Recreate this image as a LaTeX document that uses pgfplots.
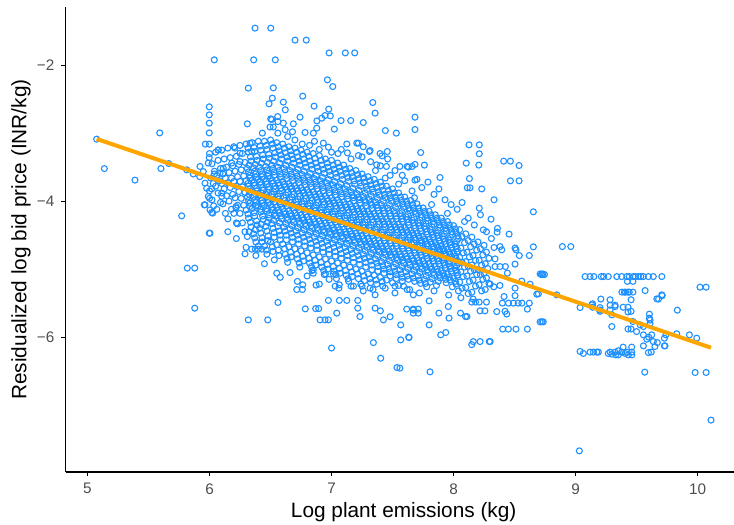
\documentclass[border=0pt]{standalone}
\usepackage{fontspec}
\setmainfont{Liberation Sans}
\usepackage{pgfplots}
\pgfplotsset{compat=1.18}
\definecolor{dodger}{HTML}{1E90FF}
\definecolor{ggorange}{HTML}{FFA500}
\definecolor{gthirty}{HTML}{4D4D4D}
\begin{document}
\begin{tikzpicture}
\begin{axis}[
 scale only axis, width=337.8pt, height=232.5pt,
 xmin=4.823, xmax=10.36, ymin=-7.983, ymax=-1.145,
 clip marker paths=true,
 axis x line*=bottom, axis y line*=left,
 axis line style={-, black, line width=0.55pt},
 tick align=outside, major tick length=2.2pt,
 tick style={black, line width=0.55pt},
 xtick={5,6,7,8,9,10}, xticklabels={5,6,7,8,9,10},
 ytick={-6,-4,-2}, yticklabels={−6,−4,−2},
 minor tick num=0,
 ticklabel style={font=\fontsize{7.65}{9}\selectfont, text=gthirty},
 xlabel={Log plant emissions (kg)},
 ylabel={Residualized log bid price (INR/kg)},
 label style={font=\fontsize{10.4}{12}\selectfont},
 xlabel style={at={(axis description cs:0.5,-0.0854)}, anchor=center},
 ylabel style={at={(axis description cs:-0.0666,0.5)}, anchor=center},
]
\addplot[only marks, mark=o, mark size=1.5pt, mark options={draw=dodger, line width=0.55pt}] coordinates {
(6.00,-3.30) (6.02,-3.45) (6.04,-3.56) (6.01,-3.66) (6.03,-3.74) (6.00,-3.85) (6.02,-3.98) (6.04,-3.60)
(6.05,-3.28) (6.07,-3.40) (6.09,-3.52) (6.06,-3.62) (6.08,-3.70) (6.05,-3.78) (6.07,-3.88) (6.09,-4.02) (6.06,-4.12)
(6.10,-3.25) (6.12,-3.38) (6.14,-3.50) (6.11,-3.60) (6.13,-3.66) (6.10,-3.74) (6.12,-3.82) (6.14,-3.92) (6.11,-4.04) (6.13,-4.18)
(6.15,-3.22) (6.17,-3.36) (6.19,-3.48) (6.16,-3.58) (6.18,-3.66) (6.15,-3.73) (6.17,-3.80) (6.19,-3.90) (6.16,-4.00) (6.18,-4.12) (6.15,-4.26)
(6.20,-3.20) (6.22,-3.34) (6.24,-3.46) (6.21,-3.56) (6.23,-3.64) (6.20,-3.71) (6.22,-3.78) (6.24,-3.86) (6.21,-3.95) (6.23,-4.06) (6.20,-4.18) (6.22,-4.32)
(6.25,-3.18) (6.27,-3.30) (6.29,-3.43) (6.26,-3.54) (6.28,-3.63) (6.25,-3.71) (6.27,-3.79) (6.29,-3.87) (6.26,-3.96) (6.28,-4.06) (6.25,-4.18) (6.27,-4.32) (6.29,-4.45)
(6.30,-3.16) (6.32,-3.28) (6.34,-3.41) (6.31,-3.52) (6.33,-3.62) (6.30,-3.70) (6.32,-3.78) (6.34,-3.86) (6.31,-3.94) (6.33,-4.03) (6.30,-4.13) (6.32,-4.25) (6.34,-4.38) (6.31,-4.52)
(6.35,-3.14) (6.37,-3.27) (6.39,-3.40) (6.36,-3.51) (6.38,-3.60) (6.35,-3.69) (6.37,-3.77) (6.39,-3.85) (6.36,-3.93) (6.38,-4.02) (6.35,-4.11) (6.37,-4.22) (6.39,-4.35) (6.36,-4.48) (6.38,-4.60)
(6.40,-3.12) (6.42,-3.25) (6.44,-3.38) (6.41,-3.50) (6.43,-3.60) (6.40,-3.68) (6.42,-3.76) (6.44,-3.84) (6.41,-3.91) (6.43,-3.99) (6.40,-4.07) (6.42,-4.16) (6.44,-4.27) (6.41,-4.40) (6.43,-4.54) (6.40,-4.66)
(6.45,-3.12) (6.47,-3.24) (6.49,-3.37) (6.46,-3.49) (6.48,-3.59) (6.45,-3.67) (6.47,-3.75) (6.49,-3.83) (6.46,-3.90) (6.48,-3.98) (6.45,-4.06) (6.47,-4.15) (6.49,-4.25) (6.46,-4.37) (6.48,-4.51) (6.45,-4.66) (6.47,-4.78)
(6.50,-3.10) (6.52,-3.22) (6.54,-3.35) (6.51,-3.47) (6.53,-3.57) (6.50,-3.66) (6.52,-3.74) (6.54,-3.82) (6.51,-3.90) (6.53,-3.97) (6.50,-4.05) (6.52,-4.13) (6.54,-4.22) (6.51,-4.33) (6.53,-4.46) (6.50,-4.60) (6.52,-4.74)
(6.55,-3.14) (6.57,-3.26) (6.59,-3.38) (6.56,-3.50) (6.58,-3.60) (6.55,-3.69) (6.57,-3.77) (6.59,-3.85) (6.56,-3.93) (6.58,-4.01) (6.55,-4.09) (6.57,-4.17) (6.59,-4.26) (6.56,-4.37) (6.58,-4.50) (6.55,-4.64) (6.57,-4.80)
(6.60,-3.16) (6.62,-3.29) (6.64,-3.41) (6.61,-3.52) (6.63,-3.62) (6.60,-3.71) (6.62,-3.79) (6.64,-3.87) (6.61,-3.95) (6.63,-4.03) (6.60,-4.11) (6.62,-4.19) (6.64,-4.28) (6.61,-4.38) (6.63,-4.50) (6.60,-4.63) (6.62,-4.78) (6.64,-4.90)
(6.65,-3.20) (6.67,-3.32) (6.69,-3.44) (6.66,-3.55) (6.68,-3.65) (6.65,-3.74) (6.67,-3.82) (6.69,-3.90) (6.66,-3.98) (6.68,-4.06) (6.65,-4.14) (6.67,-4.22) (6.69,-4.31) (6.66,-4.41) (6.68,-4.53) (6.65,-4.67) (6.67,-4.82)
(6.70,-3.22) (6.72,-3.35) (6.74,-3.47) (6.71,-3.58) (6.73,-3.68) (6.70,-3.77) (6.72,-3.85) (6.74,-3.93) (6.71,-4.01) (6.73,-4.09) (6.70,-4.17) (6.72,-4.25) (6.74,-4.34) (6.71,-4.44) (6.73,-4.56) (6.70,-4.70) (6.72,-4.85) (6.74,-4.97)
(6.75,-3.25) (6.77,-3.38) (6.79,-3.50) (6.76,-3.61) (6.78,-3.71) (6.75,-3.80) (6.77,-3.88) (6.79,-3.96) (6.76,-4.04) (6.78,-4.12) (6.75,-4.20) (6.77,-4.28) (6.79,-4.37) (6.76,-4.47) (6.78,-4.59) (6.75,-4.73) (6.77,-4.88)
(6.80,-3.28) (6.82,-3.41) (6.84,-3.53) (6.81,-3.64) (6.83,-3.74) (6.80,-3.83) (6.82,-3.91) (6.84,-3.99) (6.81,-4.07) (6.83,-4.15) (6.80,-4.23) (6.82,-4.31) (6.84,-4.40) (6.81,-4.50) (6.83,-4.62) (6.80,-4.76) (6.82,-4.91) (6.84,-5.02)
(6.85,-3.30) (6.87,-3.44) (6.89,-3.56) (6.86,-3.67) (6.88,-3.77) (6.85,-3.86) (6.87,-3.94) (6.89,-4.02) (6.86,-4.10) (6.88,-4.18) (6.85,-4.26) (6.87,-4.34) (6.89,-4.43) (6.86,-4.53) (6.88,-4.65) (6.85,-4.79) (6.87,-4.94)
(6.90,-3.33) (6.92,-3.47) (6.94,-3.59) (6.91,-3.70) (6.93,-3.80) (6.90,-3.89) (6.92,-3.97) (6.94,-4.05) (6.91,-4.13) (6.93,-4.21) (6.90,-4.29) (6.92,-4.37) (6.94,-4.46) (6.91,-4.56) (6.93,-4.68) (6.90,-4.82) (6.92,-4.97) (6.94,-5.08)
(6.95,-3.38) (6.97,-3.50) (6.99,-3.62) (6.96,-3.73) (6.98,-3.83) (6.95,-3.92) (6.97,-4.00) (6.99,-4.08) (6.96,-4.16) (6.98,-4.24) (6.95,-4.32) (6.97,-4.40) (6.99,-4.49) (6.96,-4.59) (6.98,-4.71) (6.95,-4.85) (6.97,-5.00)
(7.00,-3.40) (7.02,-3.53) (7.04,-3.65) (7.01,-3.76) (7.03,-3.86) (7.00,-3.95) (7.02,-4.03) (7.04,-4.11) (7.01,-4.19) (7.03,-4.27) (7.00,-4.35) (7.02,-4.43) (7.04,-4.52) (7.01,-4.62) (7.03,-4.74) (7.00,-4.88) (7.02,-5.03) (7.04,-5.14)
(7.05,-3.44) (7.07,-3.56) (7.09,-3.68) (7.06,-3.79) (7.08,-3.89) (7.05,-3.98) (7.07,-4.06) (7.09,-4.14) (7.06,-4.22) (7.08,-4.30) (7.05,-4.38) (7.07,-4.46) (7.09,-4.55) (7.06,-4.65) (7.08,-4.77) (7.05,-4.91) (7.07,-5.06)
(7.10,-3.47) (7.12,-3.59) (7.14,-3.71) (7.11,-3.82) (7.13,-3.92) (7.10,-4.01) (7.12,-4.09) (7.14,-4.17) (7.11,-4.25) (7.13,-4.33) (7.10,-4.41) (7.12,-4.49) (7.14,-4.58) (7.11,-4.68) (7.13,-4.80) (7.10,-4.94) (7.12,-5.09) (7.14,-5.18)
(7.15,-3.52) (7.17,-3.64) (7.19,-3.75) (7.16,-3.86) (7.18,-3.95) (7.15,-4.04) (7.17,-4.12) (7.19,-4.20) (7.16,-4.28) (7.18,-4.36) (7.15,-4.44) (7.17,-4.52) (7.19,-4.61) (7.16,-4.71) (7.18,-4.83) (7.15,-4.97) (7.17,-5.11)
(7.20,-3.55) (7.22,-3.67) (7.24,-3.78) (7.21,-3.89) (7.23,-3.98) (7.20,-4.07) (7.22,-4.15) (7.24,-4.23) (7.21,-4.31) (7.23,-4.39) (7.20,-4.47) (7.22,-4.55) (7.24,-4.64) (7.21,-4.74) (7.23,-4.86) (7.20,-5.00) (7.22,-5.14) (7.24,-5.22)
(7.25,-3.60) (7.27,-3.72) (7.29,-3.83) (7.26,-3.93) (7.28,-4.02) (7.25,-4.11) (7.27,-4.19) (7.29,-4.27) (7.26,-4.35) (7.28,-4.43) (7.25,-4.51) (7.27,-4.59) (7.29,-4.68) (7.26,-4.78) (7.28,-4.90) (7.25,-5.03) (7.27,-5.17)
(7.30,-3.64) (7.32,-3.76) (7.34,-3.87) (7.31,-3.97) (7.33,-4.06) (7.30,-4.15) (7.32,-4.23) (7.34,-4.31) (7.31,-4.39) (7.33,-4.47) (7.30,-4.55) (7.32,-4.63) (7.34,-4.72) (7.31,-4.82) (7.33,-4.94) (7.30,-5.07) (7.32,-5.20)
(7.35,-3.68) (7.37,-3.80) (7.39,-3.91) (7.36,-4.01) (7.38,-4.10) (7.35,-4.18) (7.37,-4.26) (7.39,-4.34) (7.36,-4.42) (7.38,-4.50) (7.35,-4.58) (7.37,-4.66) (7.39,-4.75) (7.36,-4.85) (7.38,-4.96) (7.35,-5.09) (7.37,-5.22)
(7.40,-3.72) (7.42,-3.84) (7.44,-3.95) (7.41,-4.05) (7.43,-4.14) (7.40,-4.22) (7.42,-4.30) (7.44,-4.38) (7.41,-4.46) (7.43,-4.54) (7.40,-4.62) (7.42,-4.70) (7.44,-4.79) (7.41,-4.89) (7.43,-5.00) (7.40,-5.12) (7.42,-5.25)
(7.45,-3.78) (7.47,-3.90) (7.49,-4.00) (7.46,-4.10) (7.48,-4.18) (7.45,-4.26) (7.47,-4.34) (7.49,-4.42) (7.46,-4.50) (7.48,-4.58) (7.45,-4.66) (7.47,-4.74) (7.49,-4.83) (7.46,-4.93) (7.48,-5.04) (7.45,-5.16)
(7.50,-3.82) (7.52,-3.94) (7.54,-4.04) (7.51,-4.14) (7.53,-4.22) (7.50,-4.30) (7.52,-4.38) (7.54,-4.46) (7.51,-4.54) (7.53,-4.62) (7.50,-4.70) (7.52,-4.78) (7.54,-4.87) (7.51,-4.97) (7.53,-5.08) (7.50,-5.20)
(7.55,-3.88) (7.57,-3.99) (7.59,-4.09) (7.56,-4.18) (7.58,-4.26) (7.55,-4.34) (7.57,-4.42) (7.59,-4.50) (7.56,-4.58) (7.58,-4.66) (7.55,-4.74) (7.57,-4.82) (7.59,-4.91) (7.56,-5.01) (7.58,-5.12) (7.55,-5.24)
(7.60,-3.94) (7.62,-4.05) (7.64,-4.14) (7.61,-4.23) (7.63,-4.31) (7.60,-4.39) (7.62,-4.46) (7.64,-4.53) (7.61,-4.61) (7.63,-4.69) (7.60,-4.77) (7.62,-4.85) (7.64,-4.94) (7.61,-5.04) (7.63,-5.15)
(7.65,-3.99) (7.67,-4.10) (7.69,-4.19) (7.66,-4.28) (7.68,-4.36) (7.65,-4.43) (7.67,-4.50) (7.69,-4.57) (7.66,-4.64) (7.68,-4.72) (7.65,-4.80) (7.67,-4.88) (7.69,-4.97) (7.66,-5.07) (7.68,-5.18)
(7.70,-4.04) (7.72,-4.15) (7.74,-4.24) (7.71,-4.32) (7.73,-4.40) (7.70,-4.47) (7.72,-4.54) (7.74,-4.61) (7.71,-4.68) (7.73,-4.75) (7.70,-4.83) (7.72,-4.91) (7.74,-5.00) (7.71,-5.10) (7.73,-5.21)
(7.75,-4.10) (7.77,-4.20) (7.79,-4.29) (7.76,-4.37) (7.78,-4.45) (7.75,-4.52) (7.77,-4.59) (7.79,-4.66) (7.76,-4.73) (7.78,-4.80) (7.75,-4.88) (7.77,-4.96) (7.79,-5.05) (7.76,-5.15) (7.78,-5.26)
(7.80,-4.15) (7.82,-4.25) (7.84,-4.34) (7.81,-4.42) (7.83,-4.49) (7.80,-4.56) (7.82,-4.63) (7.84,-4.70) (7.81,-4.77) (7.83,-4.84) (7.80,-4.92) (7.82,-5.00) (7.84,-5.09) (7.81,-5.19)
(7.85,-4.20) (7.87,-4.30) (7.89,-4.39) (7.86,-4.47) (7.88,-4.54) (7.85,-4.61) (7.87,-4.68) (7.89,-4.74) (7.86,-4.81) (7.88,-4.88) (7.85,-4.96) (7.87,-5.04) (7.89,-5.13) (7.86,-5.24)
(7.90,-4.25) (7.92,-4.35) (7.94,-4.44) (7.91,-4.52) (7.93,-4.59) (7.90,-4.66) (7.92,-4.73) (7.94,-4.80) (7.91,-4.87) (7.93,-4.94) (7.90,-5.02) (7.92,-5.10) (7.94,-5.20)
(7.95,-4.30) (7.97,-4.40) (7.99,-4.49) (7.96,-4.57) (7.98,-4.64) (7.95,-4.71) (7.97,-4.78) (7.99,-4.85) (7.96,-4.92) (7.98,-4.99) (7.95,-5.07) (7.97,-5.16) (7.99,-5.26)
(8.00,-4.36) (8.02,-4.46) (8.04,-4.55) (8.01,-4.63) (8.03,-4.70) (8.00,-4.77) (8.02,-4.84) (8.04,-4.91) (8.01,-4.98) (8.03,-5.05) (8.00,-5.13) (8.02,-5.22) (8.04,-5.32)
(8.05,-4.42) (8.07,-4.52) (8.09,-4.61) (8.06,-4.69) (8.08,-4.76) (8.05,-4.83) (8.07,-4.90) (8.09,-4.97) (8.06,-5.04) (8.08,-5.11) (8.05,-5.19) (8.07,-5.28)
(8.10,-4.48) (8.12,-4.58) (8.14,-4.67) (8.11,-4.75) (8.13,-4.82) (8.10,-4.89) (8.12,-4.96) (8.14,-5.03) (8.11,-5.10) (8.13,-5.18) (8.10,-5.27) (8.12,-5.36)
(8.15,-4.53) (8.17,-4.63) (8.19,-4.72) (8.16,-4.80) (8.18,-4.87) (8.15,-4.94) (8.17,-5.01) (8.19,-5.08) (8.16,-5.16) (8.18,-5.25) (8.15,-5.34)
(8.20,-4.60) (8.22,-4.70) (8.24,-4.79) (8.21,-4.87) (8.23,-4.94) (8.20,-5.01) (8.22,-5.08) (8.24,-5.15) (8.21,-5.23) (8.23,-5.32)
(8.25,-4.65) (8.27,-4.75) (8.29,-4.84) (8.26,-4.92) (8.28,-4.99) (8.25,-5.06) (8.27,-5.13) (8.29,-5.21) (8.26,-5.30)
(6.315,-3.22) (6.335,-3.35) (6.325,-3.47) (6.32,-3.57) (6.33,-3.66) (6.315,-3.74) (6.335,-3.82) (6.325,-3.90) (6.32,-3.99) (6.33,-4.08) (6.315,-4.19) (6.335,-4.31) (6.325,-4.45)
(6.365,-3.21) (6.385,-3.34) (6.375,-3.46) (6.37,-3.56) (6.38,-3.65) (6.365,-3.73) (6.385,-3.81) (6.375,-3.89) (6.37,-3.98) (6.38,-4.07) (6.365,-4.17) (6.385,-4.29) (6.375,-4.42) (6.37,-4.54)
(6.415,-3.19) (6.435,-3.32) (6.425,-3.44) (6.42,-3.55) (6.43,-3.64) (6.415,-3.72) (6.435,-3.80) (6.425,-3.88) (6.42,-3.95) (6.43,-4.03) (6.415,-4.12) (6.435,-4.22) (6.425,-4.34) (6.42,-4.47) (6.43,-4.60)
(6.465,-3.18) (6.485,-3.31) (6.475,-3.43) (6.47,-3.54) (6.48,-3.63) (6.465,-3.71) (6.485,-3.79) (6.475,-3.87) (6.47,-3.94) (6.48,-4.02) (6.465,-4.11) (6.485,-4.20) (6.475,-4.31) (6.47,-4.44) (6.48,-4.58) (6.465,-4.72)
(6.515,-3.16) (6.535,-3.29) (6.525,-3.41) (6.52,-3.52) (6.53,-3.62) (6.515,-3.70) (6.535,-3.78) (6.525,-3.86) (6.52,-3.94) (6.53,-4.01) (6.515,-4.09) (6.535,-4.18) (6.525,-4.28) (6.52,-4.40) (6.53,-4.53) (6.515,-4.67)
(6.565,-3.20) (6.585,-3.32) (6.575,-3.44) (6.57,-3.55) (6.58,-3.65) (6.565,-3.73) (6.585,-3.81) (6.575,-3.89) (6.57,-3.97) (6.58,-4.05) (6.565,-4.13) (6.585,-4.22) (6.575,-4.32) (6.57,-4.44) (6.58,-4.57) (6.565,-4.72)
(6.615,-3.22) (6.635,-3.35) (6.625,-3.47) (6.62,-3.57) (6.63,-3.67) (6.615,-3.75) (6.635,-3.83) (6.625,-3.91) (6.62,-3.99) (6.63,-4.07) (6.615,-4.15) (6.635,-4.24) (6.625,-4.33) (6.62,-4.44) (6.63,-4.57) (6.615,-4.70) (6.635,-4.84)
(6.665,-3.26) (6.685,-3.38) (6.675,-3.50) (6.67,-3.60) (6.68,-3.70) (6.665,-3.78) (6.685,-3.86) (6.675,-3.94) (6.67,-4.02) (6.68,-4.10) (6.665,-4.18) (6.685,-4.27) (6.675,-4.36) (6.67,-4.47) (6.68,-4.60) (6.665,-4.75)
(6.715,-3.28) (6.735,-3.41) (6.725,-3.53) (6.72,-3.63) (6.73,-3.73) (6.715,-3.81) (6.735,-3.89) (6.725,-3.97) (6.72,-4.05) (6.73,-4.13) (6.715,-4.21) (6.735,-4.30) (6.725,-4.39) (6.72,-4.50) (6.73,-4.63) (6.715,-4.78) (6.735,-4.91)
(6.765,-3.31) (6.785,-3.44) (6.775,-3.56) (6.77,-3.66) (6.78,-3.76) (6.765,-3.84) (6.785,-3.92) (6.775,-4.00) (6.77,-4.08) (6.78,-4.16) (6.765,-4.24) (6.785,-4.33) (6.775,-4.42) (6.77,-4.53) (6.78,-4.66) (6.765,-4.81)
(6.815,-3.34) (6.835,-3.47) (6.825,-3.59) (6.82,-3.69) (6.83,-3.79) (6.815,-3.87) (6.835,-3.95) (6.825,-4.03) (6.82,-4.11) (6.83,-4.19) (6.815,-4.27) (6.835,-4.36) (6.825,-4.45) (6.82,-4.56) (6.83,-4.69) (6.815,-4.84) (6.835,-4.96)
(6.865,-3.37) (6.885,-3.50) (6.875,-3.62) (6.87,-3.72) (6.88,-3.82) (6.865,-3.90) (6.885,-3.98) (6.875,-4.06) (6.87,-4.14) (6.88,-4.22) (6.865,-4.30) (6.885,-4.39) (6.875,-4.48) (6.87,-4.59) (6.88,-4.72) (6.865,-4.87)
(6.915,-3.40) (6.935,-3.53) (6.925,-3.65) (6.92,-3.75) (6.93,-3.85) (6.915,-3.93) (6.935,-4.01) (6.925,-4.09) (6.92,-4.17) (6.93,-4.25) (6.915,-4.33) (6.935,-4.42) (6.925,-4.51) (6.92,-4.62) (6.93,-4.75) (6.915,-4.90) (6.935,-5.02)
(6.965,-3.44) (6.985,-3.56) (6.975,-3.68) (6.97,-3.78) (6.98,-3.88) (6.965,-3.96) (6.985,-4.04) (6.975,-4.12) (6.97,-4.20) (6.98,-4.28) (6.965,-4.36) (6.985,-4.45) (6.975,-4.54) (6.97,-4.65) (6.98,-4.78) (6.965,-4.93)
(7.015,-3.47) (7.035,-3.59) (7.025,-3.71) (7.02,-3.81) (7.03,-3.91) (7.015,-3.99) (7.035,-4.07) (7.025,-4.15) (7.02,-4.23) (7.03,-4.31) (7.015,-4.39) (7.035,-4.48) (7.025,-4.57) (7.02,-4.68) (7.03,-4.81) (7.015,-4.96) (7.035,-5.08)
(7.065,-3.50) (7.085,-3.62) (7.075,-3.74) (7.07,-3.84) (7.08,-3.94) (7.065,-4.02) (7.085,-4.10) (7.075,-4.18) (7.07,-4.26) (7.08,-4.34) (7.065,-4.42) (7.085,-4.51) (7.075,-4.60) (7.07,-4.71) (7.08,-4.84) (7.065,-4.99)
(7.115,-3.53) (7.135,-3.65) (7.125,-3.77) (7.12,-3.87) (7.13,-3.97) (7.115,-4.05) (7.135,-4.13) (7.125,-4.21) (7.12,-4.29) (7.13,-4.37) (7.115,-4.45) (7.135,-4.54) (7.125,-4.63) (7.12,-4.74) (7.13,-4.87) (7.115,-5.02) (7.135,-5.14)
(7.165,-3.58) (7.185,-3.70) (7.175,-3.81) (7.17,-3.91) (7.18,-4.00) (7.165,-4.08) (7.185,-4.16) (7.175,-4.24) (7.17,-4.32) (7.18,-4.40) (7.165,-4.48) (7.185,-4.57) (7.175,-4.66) (7.17,-4.77) (7.18,-4.90) (7.165,-5.04)
(7.215,-3.61) (7.235,-3.73) (7.225,-3.84) (7.22,-3.94) (7.23,-4.03) (7.215,-4.11) (7.235,-4.19) (7.225,-4.27) (7.22,-4.35) (7.23,-4.43) (7.215,-4.51) (7.235,-4.60) (7.225,-4.69) (7.22,-4.80) (7.23,-4.93) (7.215,-5.07)
(7.265,-3.66) (7.285,-3.78) (7.275,-3.88) (7.27,-3.98) (7.28,-4.07) (7.265,-4.15) (7.285,-4.23) (7.275,-4.31) (7.27,-4.39) (7.28,-4.47) (7.265,-4.55) (7.285,-4.64) (7.275,-4.73) (7.27,-4.84) (7.28,-4.97) (7.265,-5.10)
(7.315,-3.70) (7.335,-3.82) (7.325,-3.92) (7.32,-4.02) (7.33,-4.11) (7.315,-4.19) (7.335,-4.27) (7.325,-4.35) (7.32,-4.43) (7.33,-4.51) (7.315,-4.59) (7.335,-4.68) (7.325,-4.77) (7.32,-4.88) (7.33,-5.01) (7.315,-5.14)
(7.365,-3.74) (7.385,-3.86) (7.375,-3.96) (7.37,-4.06) (7.38,-4.14) (7.365,-4.22) (7.385,-4.30) (7.375,-4.38) (7.37,-4.46) (7.38,-4.54) (7.365,-4.62) (7.385,-4.71) (7.375,-4.80) (7.37,-4.91) (7.38,-5.03) (7.365,-5.16)
(7.415,-3.78) (7.435,-3.90) (7.425,-4.00) (7.42,-4.10) (7.43,-4.18) (7.415,-4.26) (7.435,-4.34) (7.425,-4.42) (7.42,-4.50) (7.43,-4.58) (7.415,-4.66) (7.435,-4.75) (7.425,-4.84) (7.42,-4.95) (7.43,-5.06) (7.415,-5.18)
(7.465,-3.84) (7.485,-3.95) (7.475,-4.05) (7.47,-4.14) (7.48,-4.22) (7.465,-4.30) (7.485,-4.38) (7.475,-4.46) (7.47,-4.54) (7.48,-4.62) (7.465,-4.70) (7.485,-4.79) (7.475,-4.88) (7.47,-4.99) (7.48,-5.10)
(7.515,-3.88) (7.535,-3.99) (7.525,-4.09) (7.52,-4.18) (7.53,-4.26) (7.515,-4.34) (7.535,-4.42) (7.525,-4.50) (7.52,-4.58) (7.53,-4.66) (7.515,-4.74) (7.535,-4.83) (7.525,-4.92) (7.52,-5.03) (7.53,-5.14)
(7.565,-3.94) (7.585,-4.04) (7.575,-4.14) (7.57,-4.22) (7.58,-4.30) (7.565,-4.38) (7.585,-4.46) (7.575,-4.54) (7.57,-4.62) (7.58,-4.70) (7.565,-4.78) (7.585,-4.87) (7.575,-4.96) (7.57,-5.07) (7.58,-5.18)
(7.615,-4.00) (7.635,-4.10) (7.625,-4.19) (7.62,-4.27) (7.63,-4.35) (7.615,-4.43) (7.635,-4.50) (7.625,-4.57) (7.62,-4.65) (7.63,-4.73) (7.615,-4.81) (7.635,-4.90) (7.625,-4.99) (7.62,-5.10)
(7.665,-4.05) (7.685,-4.15) (7.675,-4.24) (7.67,-4.32) (7.68,-4.40) (7.665,-4.47) (7.685,-4.54) (7.675,-4.61) (7.67,-4.68) (7.68,-4.76) (7.665,-4.84) (7.685,-4.93) (7.675,-5.02) (7.67,-5.13)
(7.715,-4.10) (7.735,-4.20) (7.725,-4.28) (7.72,-4.36) (7.73,-4.44) (7.715,-4.51) (7.735,-4.58) (7.725,-4.65) (7.72,-4.72) (7.73,-4.79) (7.715,-4.87) (7.735,-4.96) (7.725,-5.05) (7.72,-5.16)
(7.765,-4.15) (7.785,-4.25) (7.775,-4.33) (7.77,-4.41) (7.78,-4.49) (7.765,-4.56) (7.785,-4.63) (7.775,-4.70) (7.77,-4.77) (7.78,-4.84) (7.765,-4.92) (7.785,-5.01) (7.775,-5.10) (7.77,-5.21)
(7.815,-4.20) (7.835,-4.30) (7.825,-4.38) (7.82,-4.46) (7.83,-4.53) (7.815,-4.60) (7.835,-4.67) (7.825,-4.74) (7.82,-4.81) (7.83,-4.88) (7.815,-4.96) (7.835,-5.05) (7.825,-5.14)
(7.865,-4.25) (7.885,-4.35) (7.875,-4.43) (7.87,-4.51) (7.88,-4.58) (7.865,-4.65) (7.885,-4.71) (7.875,-4.78) (7.87,-4.85) (7.88,-4.92) (7.865,-5.00) (7.885,-5.09) (7.875,-5.18)
(7.915,-4.30) (7.935,-4.40) (7.925,-4.48) (7.92,-4.56) (7.93,-4.63) (7.915,-4.70) (7.935,-4.77) (7.925,-4.84) (7.92,-4.91) (7.93,-4.98) (7.915,-5.06) (7.935,-5.15)
(7.965,-4.35) (7.985,-4.45) (7.975,-4.53) (7.97,-4.61) (7.98,-4.68) (7.965,-4.75) (7.985,-4.82) (7.975,-4.89) (7.97,-4.96) (7.98,-5.03) (7.965,-5.12)
(8.015,-4.41) (8.035,-4.51) (8.025,-4.59) (8.02,-4.67) (8.03,-4.74) (8.015,-4.81) (8.035,-4.88) (8.025,-4.95) (8.02,-5.02) (8.03,-5.09) (8.015,-5.18)
(7.25,-3.35) (7.32,-3.42) (7.40,-3.48) (7.46,-3.38) (7.52,-3.55) (7.58,-3.62) (7.63,-3.50) (7.70,-3.68) (7.74,-3.80) (7.79,-3.72) (7.84,-3.90) (7.88,-3.82) (7.93,-3.98) (7.98,-4.05) (8.03,-4.12) (8.07,-4.02) (8.12,-4.25) (8.17,-4.35) (8.22,-4.20) (8.27,-4.45) (8.31,-4.55) (8.36,-4.40) (7.36,-3.55) (7.44,-3.66) (7.55,-3.75) (7.66,-3.85) (7.48,-3.62) (7.60,-3.70) (7.68,-3.95) (7.82,-4.05) (7.95,-4.18) (8.09,-4.30)
(6.58,-5.12) (6.66,-5.05) (6.72,-5.18) (6.80,-5.10) (6.90,-5.22) (6.98,-5.15) (7.06,-5.28) (7.16,-5.25) (7.26,-5.32) (7.34,-5.30) (7.44,-5.28) (7.52,-5.35) (7.62,-5.30) (7.72,-5.35) (7.84,-5.32) (7.96,-5.38) (8.06,-5.42) (8.16,-5.44) (6.45,-4.92) (6.38,-4.80) (6.30,-4.68) (6.22,-4.55) (6.15,-4.45)
(6.373,-1.456) (6.502,-1.456) (6.701,-1.632) (6.793,-1.632)
(6.039,-1.922) (6.362,-1.922) (6.539,-1.922)
(6.98,-1.82) (7.113,-1.82) (7.19,-1.82)
(6.318,-2.338) (6.523,-2.334) (6.515,-2.485) (6.488,-2.569) (6.605,-2.544) (6.621,-2.657)
(6.966,-2.216) (7.01,-2.315) (6.764,-2.456) (6.857,-2.603) (7.338,-2.55) (7.357,-2.706) (6.977,-2.647) (6.947,-2.741) (6.99,-2.746) (6.742,-2.765) (7.684,-2.765) (7.684,-2.947) (7.441,-2.962) (7.531,-3.0) (7.157,-2.815) (7.078,-2.815) (7.023,-2.941)
(5.998,-2.613) (5.998,-2.731) (5.998,-2.853) (5.998,-2.996) (5.966,-3.162) (5.998,-3.162) (5.998,-3.359)
(5.592,-2.996) (5.075,-3.088) (5.138,-3.521) (5.389,-3.691) (5.602,-3.521) (5.666,-3.447) (5.772,-4.216) (5.998,-4.471)
(6.310,-2.863) (6.502,-2.79) (6.559,-2.756) (6.605,-2.853) (6.687,-2.863)
(5.879,-4.985) (5.818,-4.985) (5.879,-5.574)
(5.957,-4.054) (6.026,-4.176) (6.034,-4.069)
(8.127,-3.172) (8.211,-3.172) (8.211,-3.304) (8.104,-3.441) (8.207,-3.47) (8.411,-3.412) (8.466,-3.412) (8.537,-3.476) (8.466,-3.701) (8.537,-3.701) (8.332,-3.98) (8.13,-3.668) (8.113,-3.804) (8.135,-3.804) (8.231,-3.82) (7.889,-3.653) (7.731,-3.285) (7.761,-3.47) (7.684,-3.46) (7.684,-3.691) (8.211,-4.103) (8.307,-4.265) (8.244,-4.422) (8.357,-4.456) (8.455,-4.485)
(7.45,-3.49) (7.56,-3.49) (7.62,-3.49) (7.66,-3.49)
(7.22,-3.147) (7.26,-3.2) (7.31,-3.27) (7.457,-3.27) (7.22,-3.33) (7.125,-3.16) (7.13,-3.29) (7.053,-3.30) (7.414,-3.334) (7.37,-3.466)
(8.654,-4.157) (8.332,-4.682) (8.381,-4.668) (8.395,-4.716) (8.504,-4.69) (8.512,-4.716) (8.654,-4.672) (8.539,-4.8) (8.621,-4.8) (8.34,-4.849) (8.892,-4.668) (8.961,-4.668) (8.34,-4.962) (8.381,-4.962) (8.425,-4.962) (8.504,-4.926) (8.441,-5.059) (8.72,-5.079) (8.731,-5.079) (8.745,-5.079) (8.559,-5.176) (8.627,-5.221) (8.30,-5.22) (8.33,-5.26) (8.38,-5.24) (8.504,-5.279) (8.414,-5.403) (8.504,-5.39) (8.695,-5.363) (8.846,-5.378) (8.40,-5.5) (8.45,-5.5) (8.49,-5.5) (8.53,-5.5) (8.56,-5.5) (8.621,-5.5) (8.354,-5.624) (8.422,-5.62) (8.436,-5.66) (8.605,-5.588) (8.71,-5.775) (8.723,-5.775) (8.735,-5.775) (8.403,-5.882) (8.449,-5.882) (8.512,-5.882) (8.605,-5.882) (8.3,-6.065)
(9.078,-5.109) (9.119,-5.109) (9.15,-5.109) (9.211,-5.109) (9.23,-5.109) (9.268,-5.109) (9.338,-5.109) (9.378,-5.109) (9.42,-5.109) (9.44,-5.109) (9.473,-5.109) (9.49,-5.109) (9.515,-5.109) (9.535,-5.109) (9.555,-5.109) (9.597,-5.109) (9.637,-5.109) (9.707,-5.109)
(8.71,-5.07) (8.73,-5.07) (9.425,-5.18) (9.47,-5.18)
(9.38,-5.338) (9.40,-5.338) (9.41,-5.338) (9.43,-5.338) (9.44,-5.338) (9.47,-5.338)
(9.57,-5.315) (9.707,-5.378) (9.666,-5.437) (9.68,-5.44) (9.71,-5.39)
(9.207,-5.44) (9.283,-5.45) (9.455,-5.45) (9.133,-5.525) (9.14,-5.51) (9.283,-5.53) (9.324,-5.53) (9.39,-5.56) (9.43,-5.56) (9.037,-5.565) (9.2,-5.6) (9.283,-5.6) (9.455,-5.62) (9.605,-5.662) (9.605,-5.72) (9.834,-5.603) (9.297,-5.672) (9.43,-5.63) (9.297,-5.844) (9.47,-5.77) (9.43,-5.88) (9.455,-5.88) (9.50,-5.918) (9.556,-5.966) (9.624,-5.966) (9.584,-6.03) (9.637,-6.065) (9.728,-6.015) (9.728,-6.128) (9.829,-5.95) (9.933,-5.966) (9.993,-6.015) (10.02,-5.265) (10.07,-5.265) (9.556,-6.128) (9.597,-6.227) (9.53,-5.82) (9.556,-5.844) (9.61,-5.80) (9.61,-5.75) (9.60,-6.0) (9.65,-6.138) (9.67,-6.08) (9.62,-6.22) (9.74,-5.966) (9.733,-6.128)
(9.14,-5.56) (9.2,-5.565) (9.2,-5.62) (9.324,-5.55)
(9.037,-6.21) (9.064,-6.24) (9.119,-6.22) (9.146,-6.22) (9.174,-6.22) (9.187,-6.22) (9.268,-6.24) (9.283,-6.22) (9.297,-6.25) (9.324,-6.22) (9.351,-6.26) (9.379,-6.22) (9.406,-6.24) (9.42,-6.22) (9.433,-6.26) (9.46,-6.22) (9.461,-6.26) (9.39,-6.147) (9.46,-6.147) (9.33,-6.26) (9.35,-6.20)
(9.567,-6.515) (9.98,-6.52) (10.07,-6.52) (10.11,-7.22) (9.031,-7.672)
(6.318,-5.746) (6.477,-5.746) (6.561,-5.49) (6.551,-5.059) (6.531,-4.863) (6.291,-4.775) (6.346,-4.706) (6.375,-4.706) (6.40,-4.706) (6.428,-4.706) (6.228,-4.334) (6.715,-5.30) (6.761,-5.30) (6.764,-5.23) (6.873,-5.235) (6.785,-5.584) (6.87,-5.58) (6.895,-5.58) (6.906,-5.746) (6.947,-5.746) (6.974,-5.746) (7.043,-5.647) (6.974,-5.46) (7.064,-5.46) (7.125,-5.46) (7.215,-5.46) (7.215,-5.574) (7.0,-6.16) (7.343,-6.08) (7.403,-6.31) (7.537,-6.447) (7.567,-6.04) (7.633,-6.0) (7.567,-5.82) (7.48,-5.70) (7.425,-5.746) (7.357,-5.574) (7.4,-5.613) (7.67,-5.6) (7.233,-5.697) (6.85,-5.06) (6.85,-5.01) (6.95,-5.07) (7.015,-5.07) (7.03,-5.25) (7.064,-5.23) (7.18,-5.25) (7.25,-5.25) (7.357,-5.378) (7.316,-5.28) (7.52,-5.25) (7.59,-5.25) (7.64,-5.30) (7.67,-5.378)
(7.807,-6.51) (7.56,-6.456) (7.635,-6.006) (7.80,-5.82) (7.895,-5.966) (7.936,-5.932) (8.149,-6.11) (8.162,-6.065) (8.217,-6.065) (8.293,-6.065) (7.963,-5.72) (7.88,-5.647) (8.057,-5.647) (8.098,-5.697) (8.11,-5.697) (7.80,-5.466) (7.616,-5.588) (7.67,-5.588) (7.711,-5.588) (7.67,-5.647) (7.711,-5.647)
(8.149,-5.485) (8.18,-5.485) (8.21,-5.485) (8.27,-5.485) (8.217,-5.613) (8.257,-5.613) (7.957,-5.55) (8.682,-5.368)
(6.072,-3.246) (6.433,-3.0) (6.496,-2.91) (6.523,-2.91) (6.51,-2.80) (6.56,-3.0) (6.62,-2.95) (6.56,-2.83) (6.783,-2.99) (6.851,-3.0) (6.879,-2.927) (6.88,-2.82) (6.92,-2.78) (7.26,-2.844) (6.933,-3.147) (6.974,-3.206) (7.207,-3.147) (7.316,-3.256) (7.398,-3.3) (6.209,-3.22) (6.25,-3.294) (6.332,-3.147) (6.346,-3.27) (6.25,-3.418) (6.182,-3.44) (6.113,-3.515) (6.086,-3.588)
(5.922,-3.49) (5.949,-3.565) (5.963,-4.054) (6.004,-4.128) (6.018,-4.167) (6.004,-4.471)
(5.813,-3.54) (5.867,-3.6) (5.92,-3.64) (5.963,-3.735) (5.977,-3.81) (5.99,-3.93) (6.0,-3.96) (6.018,-3.82) (6.07,-3.25) (5.99,-3.44) (6.1,-3.93) (6.1,-3.88) (6.217,-4.08) (6.217,-4.10)
(6.64,-3.05) (6.70,-3.10) (6.76,-3.16) (6.68,-2.98) (6.82,-3.18) (6.86,-3.12) (7.08,-3.24) (7.16,-3.38) (6.90,-3.24) (7.00,-3.28)
};
\addplot[ggorange, line width=2pt] coordinates {(5.075,-3.085) (10.11,-6.155)};
\end{axis}
\pgfresetboundingbox
\path[use as bounding box] (-32.95pt,-26.5pt) rectangle (334.05pt,236pt);
\end{tikzpicture}
\end{document}
